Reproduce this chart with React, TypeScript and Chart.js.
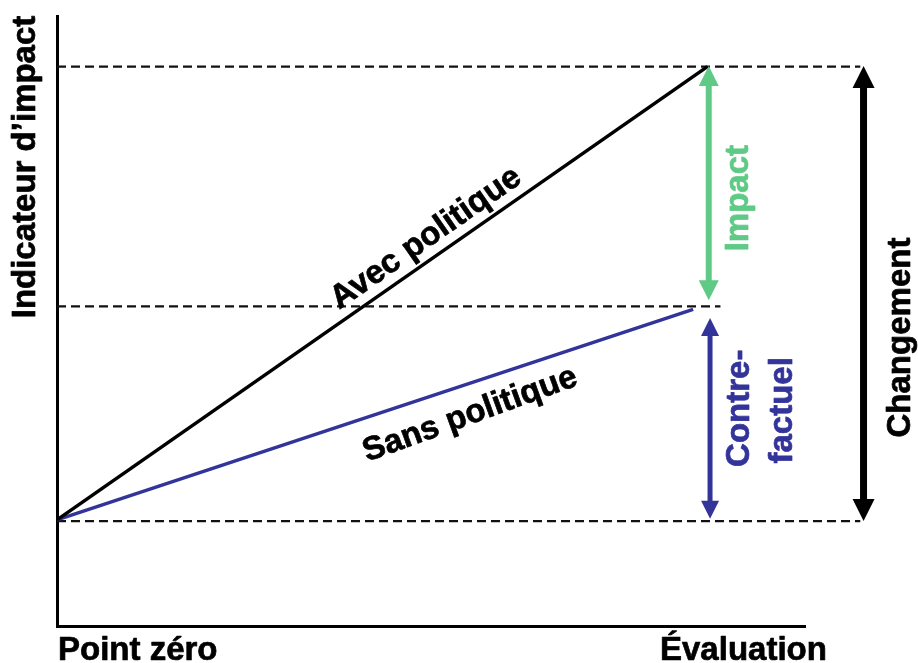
import React, { useEffect, useRef } from "react";
import { Chart, registerables } from "chart.js";
Chart.register(...registerables);

// ---- data ----
const xLabels = ["Point zéro", "Évaluation"];
const xPoints = [0, 100];
const avecPolitique = [17.4, 91.7];
const sansPolitiqueX = [0, 97.8];
const sansPolitique = [17.4, 51.9];
const refLevels = [91.7, 52.4, 17.2];
const refEnds = [123.5, 102, 123.5];
const arrowLabels = ["Impact", "Contre-|factuel", "Changement"];
const arrowX = [100.2, 100.4, 124];
const arrowFrom = [53.4, 17.6, 17.2];
const arrowTo = [91.8, 50.5, 91.8];
const seriesLabels = ["Avec politique", "Sans politique"];
const axisTitle = "Indicateur d’impact";

const GREEN = "#5fca85";
const BLUE = "#33349a";
const BLACK = "#000000";
const FONT = "bold 33px 'Liberation Sans', Arial, sans-serif";

function drawArrow(ctx: CanvasRenderingContext2D, x: number, yTop: number, yBot: number, color: string, shaft: number, headW: number, headH: number) {
  ctx.save();
  ctx.strokeStyle = color;
  ctx.fillStyle = color;
  ctx.lineWidth = shaft;
  ctx.beginPath();
  ctx.moveTo(x, yTop + headH - 1);
  ctx.lineTo(x, yBot - headH + 1);
  ctx.stroke();
  ctx.beginPath();
  ctx.moveTo(x, yTop);
  ctx.lineTo(x - headW / 2, yTop + headH);
  ctx.lineTo(x + headW / 2, yTop + headH);
  ctx.closePath();
  ctx.fill();
  ctx.beginPath();
  ctx.moveTo(x, yBot);
  ctx.lineTo(x - headW / 2, yBot - headH);
  ctx.lineTo(x + headW / 2, yBot - headH);
  ctx.closePath();
  ctx.fill();
  ctx.restore();
}

function rotText(ctx: CanvasRenderingContext2D, text: string, x: number, y: number, angle: number, color: string, align: CanvasTextAlign = "center") {
  ctx.save();
  ctx.translate(x, y);
  ctx.rotate(angle);
  ctx.font = FONT;
  ctx.fillStyle = color;
  ctx.strokeStyle = color;
  ctx.lineWidth = 0.7;
  ctx.lineJoin = "round";
  ctx.textAlign = align;
  ctx.textBaseline = "alphabetic";
  ctx.fillText(text, 0, 0);
  ctx.strokeText(text, 0, 0);
  ctx.restore();
}

const annotPlugin = {
  id: "annot",
  afterDatasetsDraw(chart: any) {
    const { ctx, scales, chartArea } = chart;
    const x = scales.x;
    const y = scales.y;
    const colors = [GREEN, BLUE, BLACK];
    const shafts = [6, 5, 7];
    const heads = [[20, 20], [18, 18], [22, 22]];
    for (let i = 0; i < arrowX.length; i++) {
      const px = x.getPixelForValue(arrowX[i]);
      drawArrow(ctx, px, y.getPixelForValue(arrowTo[i]), y.getPixelForValue(arrowFrom[i]), colors[i], shafts[i], heads[i][0], heads[i][1]);
    }
    // arrow labels
    const gx = x.getPixelForValue(arrowX[0]);
    rotText(ctx, arrowLabels[0], gx + 39, (y.getPixelForValue(arrowFrom[0]) + y.getPixelForValue(arrowTo[0])) / 2 + 15, -Math.PI / 2, GREEN);
    const bx = x.getPixelForValue(arrowX[1]);
    const bmid = (y.getPixelForValue(arrowFrom[1]) + y.getPixelForValue(arrowTo[1])) / 2;
    const parts = arrowLabels[1].split("|");
    rotText(ctx, parts[0], bx + 39, bmid - 10, -Math.PI / 2, BLUE);
    rotText(ctx, parts[1], bx + 82, bmid - 8, -Math.PI / 2, BLUE);
    const cx = x.getPixelForValue(arrowX[2]);
    rotText(ctx, arrowLabels[2], cx + 46, (y.getPixelForValue(arrowFrom[2]) + y.getPixelForValue(arrowTo[2])) / 2 + 44, -Math.PI / 2, BLACK);

    // series labels along lines
    const a0 = { x: x.getPixelForValue(xPoints[0]), y: y.getPixelForValue(avecPolitique[0]) };
    const a1 = { x: x.getPixelForValue(xPoints[1]), y: y.getPixelForValue(avecPolitique[1]) };
    const angA = Math.atan2(a1.y - a0.y, a1.x - a0.x);
    const tA = 0.585;
    const pA = { x: a0.x + (a1.x - a0.x) * tA, y: a0.y + (a1.y - a0.y) * tA };
    const offA = 11;
    rotText(ctx, seriesLabels[0], pA.x + Math.sin(angA) * offA, pA.y - Math.cos(angA) * offA, angA, BLACK);

    const s0 = { x: x.getPixelForValue(sansPolitiqueX[0]), y: y.getPixelForValue(sansPolitique[0]) };
    const s1 = { x: x.getPixelForValue(sansPolitiqueX[1]), y: y.getPixelForValue(sansPolitique[1]) };
    const angS = Math.atan2(s1.y - s0.y, s1.x - s0.x);
    const tS = 0.635;
    const pS = { x: s0.x + (s1.x - s0.x) * tS, y: s0.y + (s1.y - s0.y) * tS };
    const offS = -39;
    rotText(ctx, seriesLabels[1], pS.x + Math.sin(angS) * offS, pS.y - Math.cos(angS) * offS, angS - 0.03, BLACK);

    // axis texts
    rotText(ctx, axisTitle, chartArea.left - 22, chartArea.top + 151, -Math.PI / 2, BLACK);
    rotText(ctx, xLabels[0], x.getPixelForValue(xPoints[0]) + 1, chartArea.bottom + 34, 0, BLACK, "left");
    rotText(ctx, xLabels[1], x.getPixelForValue(xPoints[1]) + 36, chartArea.bottom + 34, 0, BLACK, "center");
  },
};

export default function App() {
  const ref = useRef<HTMLCanvasElement | null>(null);
  useEffect(() => {
    if (!ref.current) return;
    const refSets = refLevels.map((lvl, i) => ({
      label: "ref" + i,
      data: [
        { x: 0, y: lvl },
        { x: refEnds[i], y: lvl },
      ],
      borderColor: "#111111",
      borderWidth: 2.2,
      borderDash: [9, 5],
      pointRadius: 0,
      clip: false as any,
      order: 3,
    }));
    const chart = new Chart(ref.current, {
      type: "line",
      data: {
        datasets: [
          {
            label: seriesLabels[0],
            data: xPoints.map((xv, i) => ({ x: xv, y: avecPolitique[i] })),
            borderColor: BLACK,
            borderWidth: 3.5,
            pointRadius: 0,
            clip: false as any,
            order: 1,
          },
          {
            label: seriesLabels[1],
            data: sansPolitiqueX.map((xv, i) => ({ x: xv, y: sansPolitique[i] })),
            borderColor: BLUE,
            borderWidth: 3.5,
            pointRadius: 0,
            clip: false as any,
            order: 2,
          },
          ...refSets,
        ],
      },
      options: {
        animation: false,
        responsive: true,
        maintainAspectRatio: false,
        layout: { padding: { left: 57, top: 16, right: 113, bottom: 37 } },
        plugins: { legend: { display: false }, tooltip: { enabled: false } },
        scales: {
          x: {
            type: "linear",
            min: 0,
            max: 115,
            ticks: { display: false },
            grid: { display: false, drawTicks: false, tickLength: 0 },
            border: { display: true, color: BLACK, width: 3 },
          },
          y: {
            type: "linear",
            min: 0,
            max: 100,
            ticks: { display: false },
            grid: { display: false, drawTicks: false, tickLength: 0 },
            border: { display: true, color: BLACK, width: 3 },
          },
        },
      },
      plugins: [annotPlugin],
    });
    return () => chart.destroy();
  }, []);
  return (
    <div style={{ position: "absolute", left: 0, top: 0, width: 918, height: 663, background: "#fff" }}>
      <canvas ref={ref} />
    </div>
  );
}
